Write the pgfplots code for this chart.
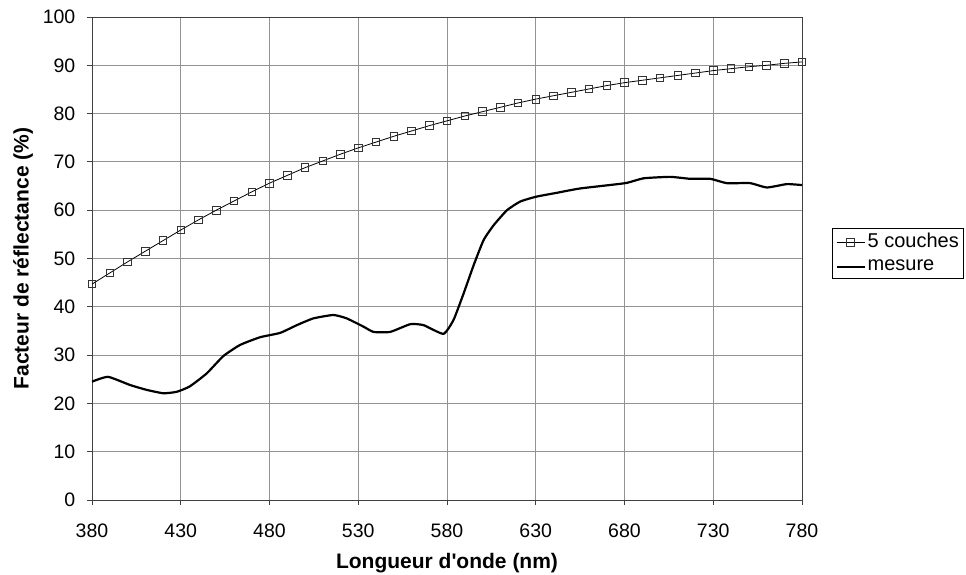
\documentclass[border=0pt]{standalone}
\usepackage{fontspec}
\setmainfont{Liberation Sans}
\usepackage{pgfplots}
\pgfplotsset{compat=1.18}
\begin{document}
\fontsize{19.5}{23}\selectfont
\begin{tikzpicture}
\useasboundingbox (-92pt,-75pt) rectangle (874pt,500pt);
\begin{axis}[
  at={(0pt,0pt)}, anchor=south west,
  scale only axis, width=710pt, height=483pt,
  xmin=380, xmax=780, ymin=0, ymax=100,
  xtick={380,430,...,780}, ytick={0,10,...,100},
  grid=major, grid style={draw=gray!85, line width=0.8pt},
  axis line style={draw=black!75, line width=0.8pt},
  tick pos=left, tick align=outside, major tick length=5pt,
  tick style={draw=black!75, line width=0.8pt},
  /pgf/number format/assume math mode=true,
  ticklabel style={font=\fontsize{19.5}{23}\selectfont},
  xticklabel style={yshift=-12pt},
  yticklabel style={xshift=-5pt},
  xlabel={\bfseries Longueur d\textquotesingle onde (nm)},
  ylabel={\bfseries Facteur de réflectance (\%)},
  xlabel style={at={(axis description cs:0.5,-0.1304)}, anchor=center, font=\fontsize{21}{25}\selectfont},
  ylabel style={at={(axis description cs:-0.0972,0.5)}, anchor=center, font=\fontsize{21}{25}\selectfont},
  legend style={at={(rel axis cs:1.0423,0.563)}, anchor=north west, draw=black, fill=white,
    font=\fontsize{20}{23}\selectfont, inner sep=3pt, row sep=5pt, line width=0.8pt,
    nodes={inner sep=2pt}},
  legend cell align=left,
  legend image code/.code={\draw[mark repeat=2, mark phase=2, #1] plot coordinates {(0pt,0pt) (14pt,0pt) (28pt,0pt)};},
]
\addplot[black, line width=0.8pt, mark=square, mark size=3.8pt, mark options={draw=black!80, line width=0.8pt, fill=none}] coordinates {
(380,44.7)(390,47.0)(400,49.3)(410,51.5)(420,53.7)(430,55.9)(440,58.0)(450,60.0)(460,61.9)(470,63.8)
(480,65.6)(490,67.2)(500,68.8)(510,70.2)(520,71.6)(530,72.9)(540,74.1)(550,75.3)(560,76.4)(570,77.5)
(580,78.5)(590,79.5)(600,80.4)(610,81.3)(620,82.2)(630,83.0)(640,83.7)(650,84.4)(660,85.1)(670,85.8)
(680,86.4)(690,86.9)(700,87.4)(710,87.9)(720,88.4)(730,88.9)(740,89.3)(750,89.7)(760,90.0)(770,90.4)(780,90.7)
};
\addlegendentry{5 couches}
\addplot[black, line width=2.2pt, smooth, tension=0.3] coordinates {
(380,24.5)(389,25.5)(401.5,23.8)(410.8,22.8)(420.2,22.1)(427.7,22.4)(435,23.5)(444.6,26.2)(454,29.8)(463.4,32.1)
(474.7,33.7)(486,34.6)(495.4,36.2)(504.7,37.6)(516,38.3)(523.5,37.6)(532.9,35.9)(538.6,34.8)(548,34.8)(559.3,36.4)
(566.8,36.2)(578,34.4)(583.7,37.3)(589.4,42.8)(595,48.6)(600.6,53.8)(606.3,56.9)(613.8,60.0)(621.3,61.8)(630.3,62.8)
(641.9,63.6)(655,64.5)(680.4,65.6)(690.7,66.6)(705.8,66.9)(717,66.5)(728.3,66.5)(737.6,65.6)(750.8,65.6)(760.2,64.7)
(771.4,65.4)(780,65.2)
};
\addlegendentry{mesure}
\end{axis}
\end{tikzpicture}
\end{document}
